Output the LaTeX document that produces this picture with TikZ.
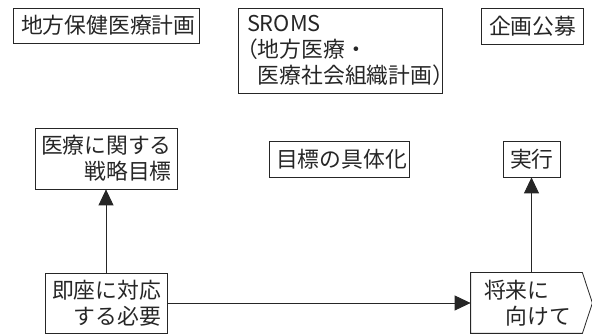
\documentclass[tikz,border=0pt]{standalone}
\usepackage{fontspec}
\setmainfont{Noto Sans CJK JP}
\usetikzlibrary{arrows.meta}
\begin{document}
\begin{tikzpicture}[x=1pt,y=-1pt,
  box/.style={draw=black!85, line width=0.8pt, inner ysep=0pt, align=left,
    font=\fontsize{21.8}{26}\selectfont, text=black!85},
  arr/.style={draw=black!85, line width=0.8pt, -{Triangle[length=16pt,width=15pt]}}]
\useasboundingbox (0,0) rectangle (592,336);
\node[box, inner xsep=8pt, text width=170pt, minimum height=35pt] (lhp) at (106,25.5) {地方保健医療計画};
\node[box, inner xsep=9pt, text width=186pt, minimum height=85pt] (sroms) at (340,50.5)
  {SROMS\\\hspace*{-0.5em}（地方医療・\\\hspace*{0.5em}医療社会組織計画）};
\node[box, inner xsep=8pt, text width=86pt, minimum height=36pt] (bosh) at (532,26) {企画公募};
\node[box, inner xsep=6pt, text width=130pt, minimum height=61pt] (strat) at (106,158.5) {医療に関する\\　　戦略目標};
\node[box, inner xsep=7pt, text width=126pt, minimum height=36pt] (goal) at (339,159) {目標の具体化};
\node[box, inner xsep=7pt, text width=43pt, minimum height=36pt] (exec) at (531.5,159) {実行};
\node[box, inner xsep=7pt, text width=108pt, minimum height=60pt] (imm) at (106,303) {即座に対応\\　する必要};
\node[box, draw=none, inner xsep=13pt, text width=85pt, minimum height=60pt] (fut) at (526.5,303) {将来に\\　向けて};
\draw[draw=black!85, line width=0.8pt] (fut.north west) -- (fut.north east) -- ([xshift=10pt]fut.east)
  -- (fut.south east) -- (fut.south west) -- cycle;
\draw[arr] (imm.north) -- (strat.south);
\draw[arr] (imm.east) -- (fut.west);
\draw[arr] (exec.south |- fut.north) -- (exec.south);
\end{tikzpicture}
\end{document}
